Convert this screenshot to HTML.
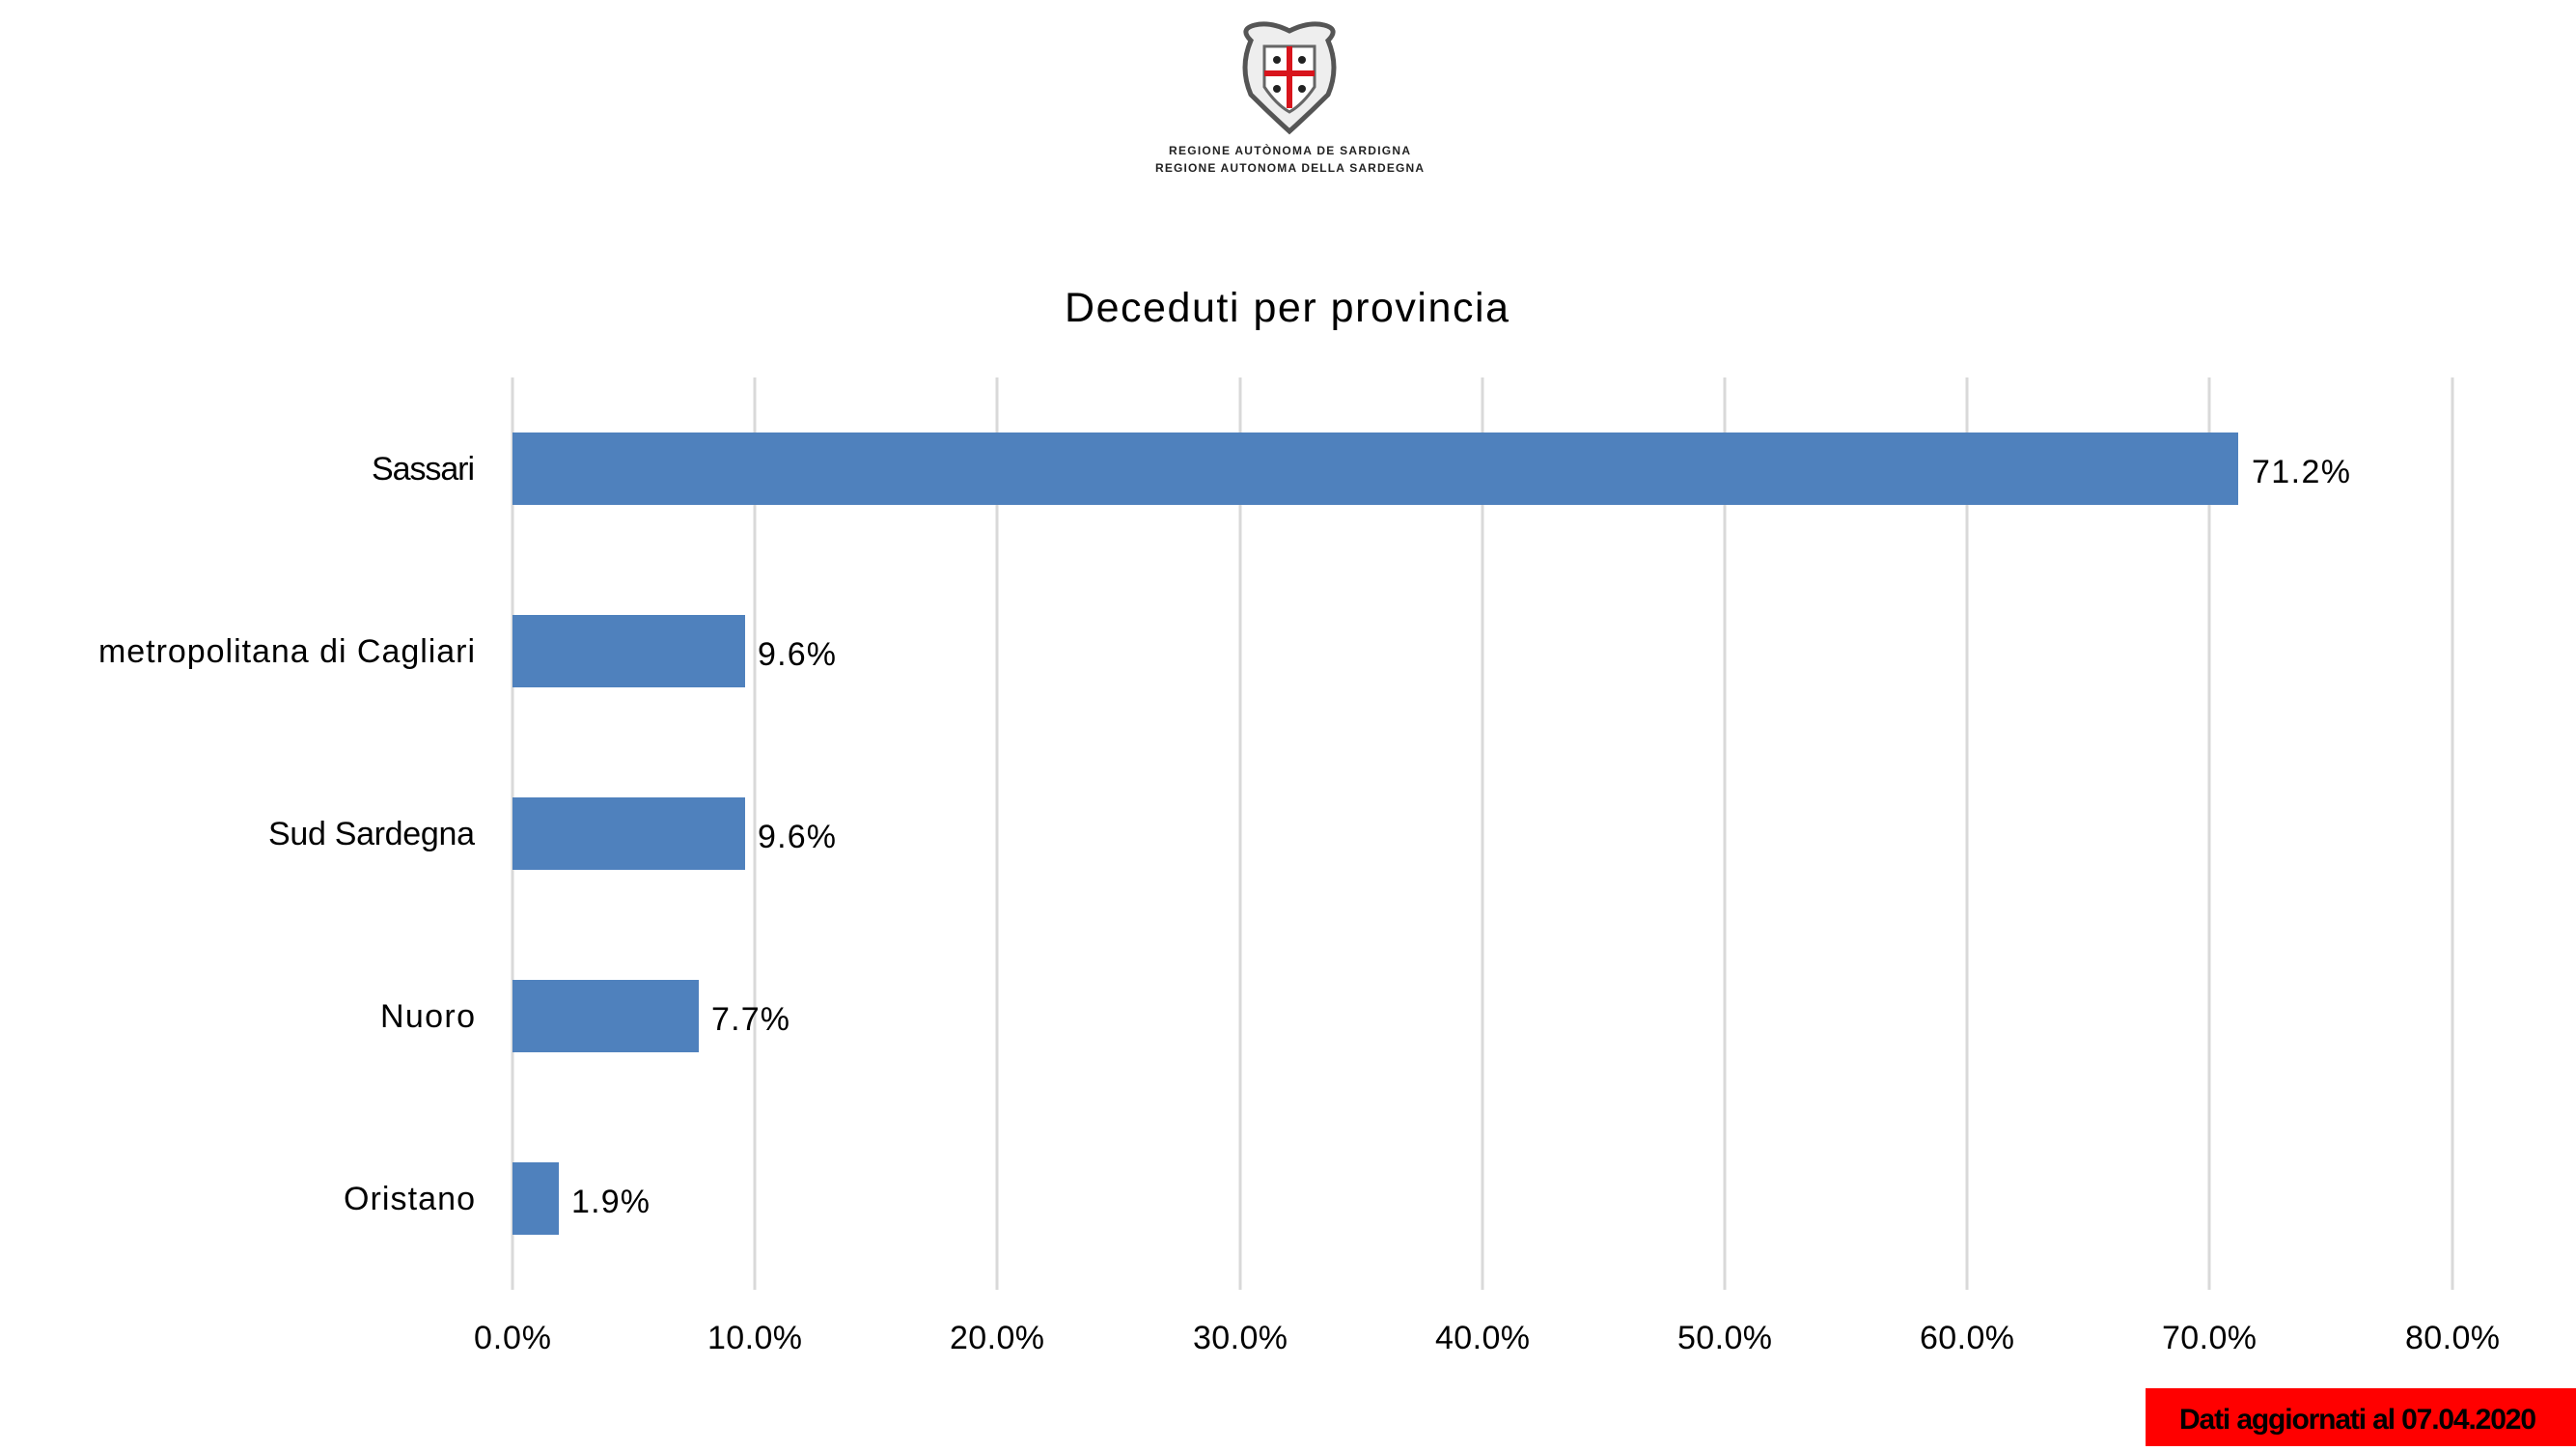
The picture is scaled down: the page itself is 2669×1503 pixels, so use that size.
<!DOCTYPE html>
<html><head><meta charset="utf-8"><style>
html,body{margin:0;padding:0;background:#fff;}
svg{display:block;font-family:"Liberation Sans",sans-serif;}
</style></head><body>
<svg width="2669" height="1503" viewBox="0 0 2669 1503" xmlns="http://www.w3.org/2000/svg">
<rect width="2669" height="1503" fill="#fff"/>
<!-- logo -->
<g transform="translate(1336,0)">
  <path d="M-40,42 Q-52,30 -36,26 Q-20,22 0,32 Q20,22 36,26 Q52,30 40,42 Q52,70 40,98 Q20,118 0,136 Q-20,118 -40,98 Q-52,70 -40,42Z" fill="#eee" stroke="#555" stroke-width="5"/>
  <path d="M-26,48 L26,48 L26,90 Q14,108 0,116 Q-14,108 -26,90Z" fill="#fff" stroke="#666" stroke-width="3"/>
  <rect x="-3" y="48" width="6" height="64" fill="#d8141c"/>
  <rect x="-26" y="73" width="52" height="6" fill="#d8141c"/>
  <circle cx="-13" cy="62" r="4" fill="#222"/><circle cx="13" cy="62" r="4" fill="#222"/>
  <circle cx="-13" cy="92" r="4" fill="#222"/><circle cx="13" cy="92" r="4" fill="#222"/>
  <text x="0" y="160" font-size="12" font-weight="bold" text-anchor="middle" textLength="250" fill="#222">REGIONE AUTÒNOMA DE SARDIGNA</text>
  <text x="0" y="178" font-size="12" font-weight="bold" text-anchor="middle" textLength="278" fill="#222">REGIONE AUTONOMA DELLA SARDEGNA</text>
</g>
<text x="1333" y="333" font-size="43" text-anchor="middle" textLength="460" fill="#000">Deceduti per provincia</text>
<!-- gridlines -->
<g stroke="#d9d9d9" stroke-width="3">
<line x1="531" y1="391" x2="531" y2="1336"/>
<line x1="782" y1="391" x2="782" y2="1336"/>
<line x1="1033" y1="391" x2="1033" y2="1336"/>
<line x1="1285" y1="391" x2="1285" y2="1336"/>
<line x1="1536" y1="391" x2="1536" y2="1336"/>
<line x1="1787" y1="391" x2="1787" y2="1336"/>
<line x1="2038" y1="391" x2="2038" y2="1336"/>
<line x1="2289" y1="391" x2="2289" y2="1336"/>
<line x1="2541" y1="391" x2="2541" y2="1336"/>
</g>
<!-- bars -->
<g fill="#4f81bd">
<rect x="531" y="448" width="1788" height="75"/>
<rect x="531" y="637" width="241" height="75"/>
<rect x="531" y="826" width="241" height="75"/>
<rect x="531" y="1015" width="193" height="75"/>
<rect x="531" y="1204" width="48" height="75"/>
</g>
<g font-size="34" fill="#000">
<text x="492" y="497" text-anchor="end" textLength="107">Sassari</text>
<text x="492" y="686" text-anchor="end" textLength="390">metropolitana di Cagliari</text>
<text x="492" y="875" text-anchor="end" textLength="214">Sud Sardegna</text>
<text x="492" y="1064" text-anchor="end" textLength="98">Nuoro</text>
<text x="492" y="1253" text-anchor="end" textLength="136">Oristano</text>
<text x="2333" y="500" textLength="102">71.2%</text>
<text x="785" y="689" textLength="81">9.6%</text>
<text x="785" y="878" textLength="81">9.6%</text>
<text x="737" y="1067" textLength="81">7.7%</text>
<text x="592" y="1256" textLength="81">1.9%</text>
</g>
<g font-size="34" fill="#000" text-anchor="middle">
<text x="531" y="1397" textLength="80">0.0%</text>
<text x="782" y="1397" textLength="98">10.0%</text>
<text x="1033" y="1397" textLength="98">20.0%</text>
<text x="1285" y="1397" textLength="98">30.0%</text>
<text x="1536" y="1397" textLength="98">40.0%</text>
<text x="1787" y="1397" textLength="98">50.0%</text>
<text x="2038" y="1397" textLength="98">60.0%</text>
<text x="2289" y="1397" textLength="98">70.0%</text>
<text x="2541" y="1397" textLength="98">80.0%</text>
</g>
<rect x="2223" y="1438" width="446" height="60" fill="#ff0000"/>
<text x="2443" y="1480" font-size="30" font-weight="bold" text-anchor="middle" textLength="370" fill="#000">Dati aggiornati al 07.04.2020</text>
</svg>
</body></html>
